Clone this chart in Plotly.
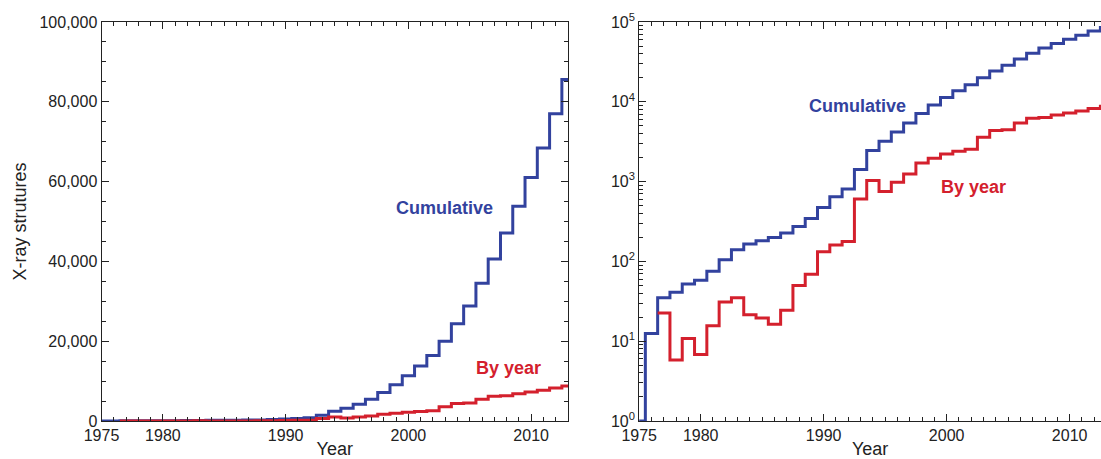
import plotly.graph_objects as go
import numpy as np

years = list(range(1975, 2014))
cumulative = [1, 12.5, 35, 41, 52, 58, 75, 105, 140, 165, 181, 200, 227, 274, 345,
              475, 647, 810, 1420, 2450, 3200, 4180, 5420, 7150, 9100, 11350, 13800,
              16400, 20000, 24400, 28800, 34500, 40600, 47100, 53800, 61000, 68400,
              77000, 85600]
by_year_years = list(range(1977, 2014))
by_year = [22.5, 5.8, 10.8, 6.8, 15.6, 31, 35, 21.4, 19.6, 16.3, 24.5, 50, 69, 132,
           160, 178, 605, 1030, 750, 980, 1245, 1710, 1955, 2220, 2400, 2540, 3590,
           4360, 4480, 5430, 6210, 6340, 6850, 7260, 7690, 8250, 8790]

x_ticks = [1975, 1980, 1990, 2000, 2010]
lin_ticks = [0, 20000, 40000, 60000, 80000, 100000]
lin_text = ["0", "20,000", "40,000", "60,000", "80,000", "100,000"]
log_ticks = [1, 10, 100, 1000, 10000, 100000]
log_text = ["10<sup>0</sup>", "10<sup>1</sup>", "10<sup>2</sup>", "10<sup>3</sup>",
            "10<sup>4</sup>", "10<sup>5</sup>"]

BLUE = "rgb(50,66,158)"
RED = "rgb(212,32,45)"
FONT = "Liberation Sans, Arial, Helvetica, sans-serif"


def edges(xs, ys):
    xe = [x - 0.5 for x in xs] + [xs[-1] + 0.5]
    ye = list(ys) + [ys[-1]]
    return xe, ye


fig = go.Figure()
for xa, ya in [("x", "y"), ("x2", "y2")]:
    xe, ye = edges(years, cumulative)
    fig.add_trace(go.Scatter(x=xe, y=ye, mode="lines", line_shape="hv",
                             line=dict(color=BLUE, width=3), xaxis=xa, yaxis=ya,
                             showlegend=False, hoverinfo="skip"))
    xe, ye = edges(by_year_years, by_year)
    fig.add_trace(go.Scatter(x=xe, y=ye, mode="lines", line_shape="hv",
                             line=dict(color=RED, width=3), xaxis=xa, yaxis=ya,
                             showlegend=False, hoverinfo="skip"))

W, H = 1101, 459
common_x = dict(
    tickmode="array", tickvals=x_ticks, ticks="inside", ticklen=7, tickwidth=1,
    tickcolor="#222", showline=True, linecolor="#222", linewidth=1, mirror="allticks",
    showgrid=False, zeroline=False, automargin=False,
    tickfont=dict(family=FONT, size=16, color="#222"),
    title=dict(text="Year", font=dict(family=FONT, size=18, color="#222"), standoff=3),
    minor=dict(tickmode="linear", tick0=1975, dtick=1, ticks="inside", ticklen=4,
               tickcolor="#222", showgrid=False),
)

fig.update_layout(
    width=W, height=H,
    margin=dict(l=0, r=0, t=22, b=38),
    paper_bgcolor="white", plot_bgcolor="white",
    xaxis=dict(domain=[101.5 / W, 568 / W], range=[1975, 2013], anchor="y", **common_x),
    xaxis2=dict(domain=[639.2 / W, 1.0], range=[1975, 2012.55], anchor="y2", **common_x),
    yaxis=dict(
        domain=[0, 1], range=[0, 100000], anchor="x", automargin=False,
        tickmode="array", tickvals=lin_ticks, ticktext=lin_text,
        ticks="inside", ticklen=7, tickcolor="#222", showline=True, linecolor="#222",
        linewidth=1, mirror="allticks", showgrid=False, zeroline=False,
        tickfont=dict(family=FONT, size=16, color="#222"),
        title=dict(text="X-ray strutures", font=dict(family=FONT, size=18, color="#222"),
                   standoff=8),
        minor=dict(tickmode="linear", tick0=0, dtick=5000, ticks="inside", ticklen=4,
                   tickcolor="#222", showgrid=False),
    ),
    yaxis2=dict(
        domain=[0, 1], type="log", range=[0, 5], anchor="x2", automargin=False,
        tickmode="array", tickvals=log_ticks, ticktext=log_text,
        ticks="inside", ticklen=7, tickcolor="#222", showline=True, linecolor="#222",
        linewidth=1, mirror=False, showgrid=False, zeroline=False,
        tickfont=dict(family=FONT, size=16, color="#222"),
        minor=dict(ticks="inside", ticklen=4, dtick="D1", tickcolor="#222", showgrid=False),
    ),
    yaxis3=dict(
        overlaying="y2", side="right", anchor="x2", type="log", range=[0, 5],
        automargin=False, tickmode="array", tickvals=log_ticks, showticklabels=False,
        ticks="inside", ticklen=7, tickcolor="#222", showline=True, linecolor="#222",
        linewidth=1, showgrid=False, zeroline=False,
    ),
    annotations=[
        dict(x=2002.93, y=53480, xref="x", yref="y", text="<b>Cumulative</b>",
             showarrow=False, font=dict(family=FONT, size=18, color=BLUE)),
        dict(x=2008.17, y=13230, xref="x", yref="y", text="<b>By year</b>",
             showarrow=False, font=dict(family=FONT, size=18, color=RED)),
        dict(x=1992.75, y=np.log10(8790), xref="x2", yref="y2", text="<b>Cumulative</b>",
             showarrow=False, font=dict(family=FONT, size=18, color=BLUE)),
        dict(x=2002.18, y=np.log10(846), xref="x2", yref="y2", text="<b>By year</b>",
             showarrow=False, font=dict(family=FONT, size=18, color=RED)),
    ],
)

fig.write_html(
    "out.html",
    config={"displayModeBar": False},
    post_script="document.body.style.margin='0';document.body.style.overflow='hidden';",
)
